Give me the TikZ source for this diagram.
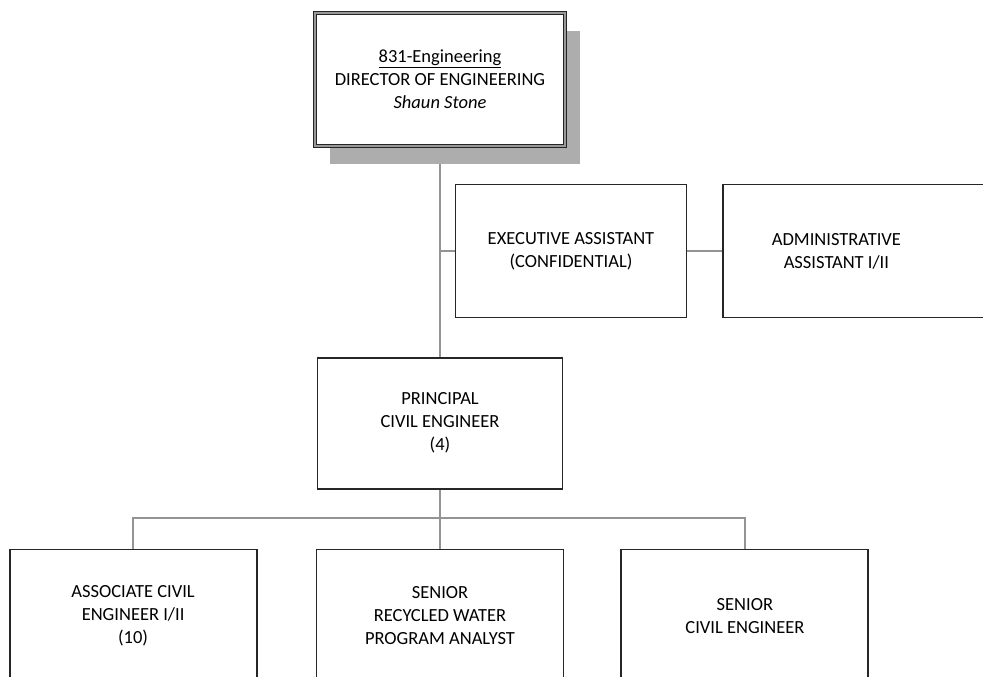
\documentclass[tikz,border=0pt]{standalone}
\usepackage{fontspec}
\setmainfont{Carlito}
\usetikzlibrary{positioning, shadows, backgrounds}
\tikzset{
  post/.style={rectangle, draw=black!85, line width=1.9pt, fill=white, minimum width=247pt, minimum height=133pt, align=center, font=\fontsize{18.5}{23}\selectfont},
  head/.style={post, minimum width=250pt, minimum height=133pt, double=black!40, double distance=1.8pt, line width=1.2pt, drop shadow={shadow xshift=15pt, shadow yshift=-18pt, fill=black!32, opacity=1}},
  link/.style={draw=black!42, line width=1.4pt}
}

\begin{document}
\begin{tikzpicture}[x=1pt, y=-1pt, node distance=59pt and 58pt]

  \useasboundingbox (0,0) rectangle (983,677);

  \node (dir) [head] at (440,79.5) {\underline{831-Engineering}\\ DIRECTOR OF ENGINEERING\\ \textit{Shaun Stone}};
  \node (exec) [post, minimum width=231pt] at (571,251) {EXECUTIVE ASSISTANT\\ (CONFIDENTIAL)};
  \node (admin) [post, minimum width=300pt, right=35pt of exec,
    label={[align=center, font=\fontsize{18.5}{23}\selectfont, xshift=-37pt]center:ADMINISTRATIVE\\ ASSISTANT I/II}] {};
  \node (prin) [post, minimum width=245pt, minimum height=131pt, below=210pt of dir] {PRINCIPAL\\ CIVIL ENGINEER\\ (4)};
  \node (mid) [post, below=of prin] {SENIOR\\ RECYCLED WATER\\ PROGRAM ANALYST};
  \node (assoc) [post, left=of mid] {ASSOCIATE CIVIL\\ ENGINEER I/II\\ (10)};
  \node (senior) [post, right=56pt of mid] {SENIOR\\ CIVIL ENGINEER};

  \begin{pgfonlayer}{background}
    \draw [link] (dir) -- (prin);
    \draw [link] (exec) -- (exec -| dir);
    \draw [link] (exec) -- (admin);
    \draw [link] (prin) -- ++(0,95) coordinate (bus);
    \draw [link] (assoc.north) |- (bus) -| (senior.north);
    \draw [link] (bus) -- (mid);
  \end{pgfonlayer}

\end{tikzpicture}
\end{document}
